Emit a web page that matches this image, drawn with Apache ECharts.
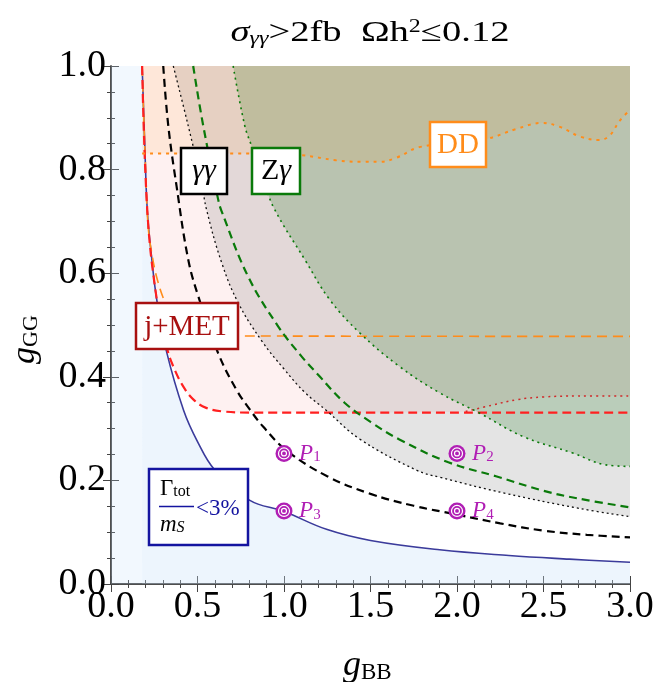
<!DOCTYPE html>
<html>
<head>
<meta charset="utf-8">
<script src="https://cdn.jsdelivr.net/npm/echarts@6/dist/echarts.min.js"></script>
<style>
html,body{margin:0;padding:0;background:#fff}
#main{width:659px;height:682px}
</style>
</head>
<body>
<div id="main"></div>
<script>
// curves, [gBB, gGG]
var widthCut = [[0.18,1.0],[0.195,0.85],[0.21,0.72],[0.235,0.63],[0.264,0.55],[0.32,0.45],[0.42,0.335],[0.5,0.275],[0.6,0.22],[0.8,0.162],[1.0,0.14],[1.25,0.105],[1.5,0.084],[1.9,0.066],[2.3,0.055],[2.65,0.048],[3.0,0.042]];
var jetMet = [[0.18,1.0],[0.21,0.72],[0.26,0.56],[0.32,0.46],[0.36,0.42],[0.42,0.38],[0.48,0.355],[0.55,0.34],[0.65,0.333],[0.8,0.331],[1.5,0.331],[2.05,0.331],[3.0,0.331]];
var jetMetDotted = [[2.05,0.333],[2.2,0.345],[2.35,0.356],[2.5,0.361],[2.7,0.363],[3.0,0.363]];
var ddDotted = [[0.18,0.831],[0.9,0.831],[1.1,0.828],[1.3,0.818],[1.45,0.815],[1.55,0.815],[1.65,0.823],[1.78,0.843],[2.0,0.852],[2.17,0.859],[2.34,0.878],[2.49,0.89],[2.59,0.883],[2.71,0.864],[2.82,0.857],[2.88,0.865],[2.94,0.894],[3.0,0.915]];
var ddDashed = [[0.18,1.0],[0.2,0.8],[0.215,0.69],[0.24,0.63],[0.27,0.585],[0.31,0.545],[0.36,0.505],[0.42,0.488],[0.5,0.481],[0.6,0.479],[3.0,0.478]];
var aaDashed = [[0.302,1.0],[0.331,0.885],[0.379,0.768],[0.446,0.627],[0.504,0.556],[0.619,0.446],[0.725,0.375],[0.802,0.337],[0.879,0.304],[1.014,0.258],[1.25,0.208],[1.5,0.174],[1.75,0.151],[2.0,0.134],[2.25,0.117],[2.5,0.103],[2.75,0.095],[3.0,0.09]];
var aaDotted = [[0.36,1.0],[0.446,0.885],[0.523,0.775],[0.552,0.723],[0.64,0.62],[0.735,0.543],[0.87,0.47],[1.0,0.415],[1.12,0.37],[1.245,0.335],[1.437,0.28],[1.764,0.22],[1.9,0.206],[2.28,0.175],[2.706,0.146],[3.0,0.13]];
var zaDashed = [[0.475,1.0],[0.533,0.885],[0.619,0.743],[0.639,0.72],[0.792,0.594],[0.965,0.498],[1.1,0.44],[1.2,0.403],[1.35,0.35],[1.5,0.313],[1.667,0.279],[1.95,0.235],[2.225,0.208],[2.5,0.18],[2.7,0.165],[3.0,0.148]];
var zaDotted = [[0.706,1.0],[0.773,0.885],[0.812,0.846],[0.88,0.78],[0.946,0.723],[1.119,0.627],[1.264,0.549],[1.437,0.485],[1.667,0.42],[1.9,0.369],[2.13,0.33],[2.38,0.285],[2.668,0.253],[2.86,0.23],[3.0,0.227]];
var leftStrip = [[0,1.0],[0.18,1.0]];
var benchPts = [[1,0.252],[2,0.252],[1,0.141],[2,0.141]];
var benchNames = ['1','2','3','4'];

var serif = 'Liberation Serif';
var myChart = echarts.init(document.getElementById('main'));

function fill(data, color, origin, smooth) {
	return {type:'line', data:data, smooth:smooth === undefined ? 0.4 : smooth, symbol:'none', silent:true,
		lineStyle:{width:0}, areaStyle:{color:color, origin:origin, opacity:1}};
}
function curve(data, color, width, dash) {
	return {type:'line', data:data, smooth:0.4, symbol:'none', silent:true,
		lineStyle:{color:color, width:width, type:dash, cap:'butt'}};
}

// pink fill follows the dashed line then the dotted one
var jetFill = jetMet.filter(function(p){return p[0] < 2.05;}).concat(jetMetDotted);

var ringData = benchPts.map(function(p, i){return {value:p, name:benchNames[i]};});

option = {
	animation: false,
	grid: {left:111, right:29, top:66, bottom:98},
	xAxis: [{
		type:'value', min:0, max:3, interval:0.5,
		axisLine:{lineStyle:{color:'#444', width:1.5}},
		axisTick:{inside:true, length:8, lineStyle:{color:'#444'}},
		minorTick:{show:true, splitNumber:5, length:4, lineStyle:{color:'#444'}},
		splitLine:{show:false},
		axisLabel:{margin:4, color:'#000', fontFamily:serif, fontSize:38, formatter:function(v){return v.toFixed(1);}}
	}, {
		type:'value', min:0, max:3, interval:0.5, position:'top',
		axisLine:{lineStyle:{color:'#444', width:1.5}},
		axisTick:{inside:true, length:8, lineStyle:{color:'#444'}},
		minorTick:{show:true, splitNumber:5, length:4, lineStyle:{color:'#444'}},
		splitLine:{show:false}, axisLabel:{show:false}
	}],
	yAxis: [{
		type:'value', min:0, max:1, interval:0.2,
		axisLine:{show:true, lineStyle:{color:'#444', width:1.5}},
		axisTick:{show:true, inside:true, length:8, lineStyle:{color:'#444'}},
		minorTick:{show:true, splitNumber:4, length:4, lineStyle:{color:'#444'}},
		splitLine:{show:false},
		axisLabel:{margin:5, color:'#000', fontFamily:serif, fontSize:38, formatter:function(v){return v.toFixed(1);}}
	}, {
		type:'value', min:0, max:1, interval:0.2, position:'right',
		axisLine:{show:true, lineStyle:{color:'#444', width:1.5}},
		axisTick:{show:true, inside:true, length:8, lineStyle:{color:'#444'}},
		minorTick:{show:true, splitNumber:4, length:4, lineStyle:{color:'#444'}},
		splitLine:{show:false}, axisLabel:{show:false}
	}],
	series: [
		fill(leftStrip, 'rgba(190,220,250,0.2)', 'start', false),
		fill(widthCut, 'rgba(200,225,250,0.33)', 'start'),
		fill(jetFill, 'rgba(245,140,140,0.12)', 'end'),
		fill(aaDotted, 'rgba(0,0,0,0.105)', 'end'),
		fill(zaDotted, 'rgba(0,100,0,0.19)', 'end'),
		fill(ddDotted, 'rgba(255,140,0,0.1)', 'end'),
		curve(widthCut, '#3b3b9b', 1.6, 'solid'),
		curve(ddDashed, '#ff8c1a', 1.6, [10,6]),
		curve(jetMetDotted, '#d02a2a', 1.5, [2,4]),
		curve(jetMet, '#ff2020', 2.2, [9,5]),
		curve(aaDotted, '#111', 1.3, [2,3]),
		curve(aaDashed, '#000', 2.2, [8,5]),
		curve(zaDotted, '#0a7a0a', 1.6, [2,4]),
		curve(zaDashed, '#0a7a0a', 2.2, [8,5]),
		curve(ddDotted, '#ff8c1a', 2, [3,5]),
		{type:'scatter', z:5, data:benchPts, symbol:'circle', symbolSize:17, silent:true,
			itemStyle:{color:'#b01eb4', opacity:1}},
		{type:'scatter', z:6, data:benchPts, symbol:'circle', symbolSize:11, silent:true,
			itemStyle:{color:'rgba(0,0,0,0)', borderColor:'#fff', borderWidth:1.2, opacity:1}},
		{type:'scatter', z:7, data:ringData, symbol:'circle', symbolSize:5, silent:true,
			itemStyle:{color:'rgba(0,0,0,0)', borderColor:'#fff', borderWidth:1.2, opacity:1},
			label:{show:true, position:'right', distance:12,
				formatter:function(p){return '{p|P}{s|' + p.name + '}';},
				rich:{p:{fontFamily:serif, fontStyle:'italic', fontSize:23, color:'#b01eb4'},
					s:{fontFamily:serif, fontSize:15, color:'#b01eb4', verticalAlign:'bottom', padding:[8,0,0,0]}}}}
	],
	graphic: {elements: [
		// title
		{type:'text', x:370, y:33, z:100, scaleX:1.33, style:{
			text:'{i|σ}{sub|γγ}{n|>2fb  Ωh}{sup|2}{n|≤0.12}', align:'center', verticalAlign:'middle',
			rich:{
				i:{fontFamily:serif, fontStyle:'italic', fontSize:29, color:'#000'},
				n:{fontFamily:serif, fontSize:29, color:'#000'},
				sub:{fontFamily:serif, fontStyle:'italic', fontSize:18, color:'#000', verticalAlign:'bottom', padding:[12,0,0,0]},
				sup:{fontFamily:serif, fontSize:18, color:'#000', verticalAlign:'top', padding:[0,0,10,0]}
			}}},
		// axis names
		{type:'text', x:343, y:648, z:100, style:{
			text:'{i|g}{s|BB}',
			rich:{i:{fontFamily:serif, fontStyle:'italic', fontSize:36, color:'#000'},
				s:{fontFamily:serif, fontSize:23, color:'#000', verticalAlign:'bottom', padding:[13,0,0,0]}}}},
		{type:'text', x:8, y:364, z:100, rotation:Math.PI/2, style:{
			text:'{i|g}{s|GG}',
			rich:{i:{fontFamily:serif, fontStyle:'italic', fontSize:34, color:'#000'},
				s:{fontFamily:serif, fontSize:22, color:'#000', verticalAlign:'bottom', padding:[12,0,0,0]}}}},
		// label boxes
		{type:'rect', z:100, shape:{x:181, y:148, width:46, height:46}, style:{fill:'#fff', stroke:'#000', lineWidth:2.5}},
		{type:'text', z:101, x:204, y:171, style:{text:'γγ', fontFamily:serif, fontStyle:'italic', fontSize:30, fill:'#000', align:'center', verticalAlign:'middle'}},
		{type:'rect', z:100, shape:{x:252, y:148, width:48, height:46}, style:{fill:'#fff', stroke:'#0a7a0a', lineWidth:2.5}},
		{type:'text', z:101, x:276, y:171, style:{text:'{n|Z}{i|γ}', align:'center', verticalAlign:'middle',
			rich:{n:{fontFamily:serif, fontSize:30, color:'#0a7a0a'}, i:{fontFamily:serif, fontStyle:'italic', fontSize:30, color:'#0a7a0a'}}}},
		{type:'rect', z:100, shape:{x:430, y:122, width:56, height:45}, style:{fill:'#fff', stroke:'#ff8c1a', lineWidth:2.5}},
		{type:'text', z:101, x:458, y:145, style:{text:'DD', fontFamily:serif, fontSize:29, fill:'#ff8c1a', align:'center', verticalAlign:'middle'}},
		{type:'rect', z:100, shape:{x:136, y:303, width:102, height:46}, style:{fill:'#fff', stroke:'#a81010', lineWidth:2.5}},
		{type:'text', z:101, x:187, y:327, style:{text:'j+MET', fontFamily:serif, fontSize:29, fill:'#a81010', align:'center', verticalAlign:'middle'}},
		{type:'rect', z:100, shape:{x:149, y:469, width:99, height:76}, style:{fill:'#fff', stroke:'#1414a0', lineWidth:2.5}},
		{type:'text', z:101, x:160, y:477, style:{text:'{g|Γ}{s|tot}', rich:{g:{fontFamily:serif, fontSize:23, color:'#1414a0'},
			s:{fontFamily:serif, fontSize:16, color:'#1414a0', verticalAlign:'bottom', padding:[6,0,0,0]}}}},
		{type:'line', z:101, shape:{x1:159, y1:506.5, x2:194, y2:506.5}, style:{stroke:'#1414a0', lineWidth:1.3}},
		{type:'text', z:101, x:160, y:513, style:{text:'{m|m}{s|S}', rich:{m:{fontFamily:serif, fontStyle:'italic', fontSize:23, color:'#1414a0'},
			s:{fontFamily:serif, fontStyle:'italic', fontSize:16, color:'#1414a0', verticalAlign:'bottom', padding:[6,0,0,0]}}}},
		{type:'text', z:101, x:196, y:509, style:{text:'<3%', fontFamily:serif, fontSize:23, fill:'#1414a0', verticalAlign:'middle'}}
	]}
};
myChart.setOption(option);
</script>
</body>
</html>
